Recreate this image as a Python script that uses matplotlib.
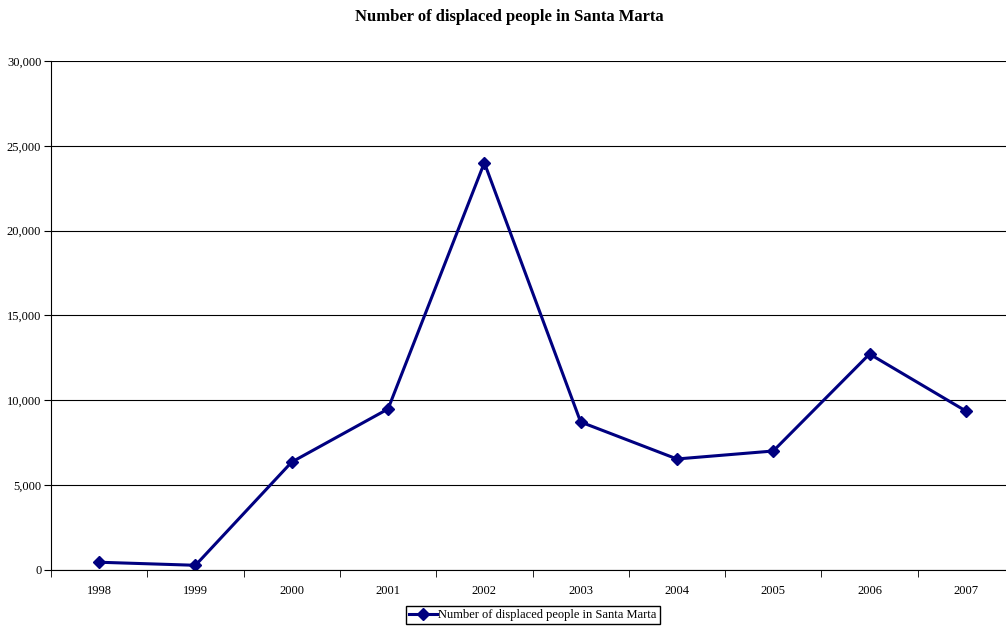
import matplotlib.pyplot as plt
from matplotlib.ticker import FuncFormatter, FixedLocator

plt.rcParams["font.family"] = ["Liberation Serif", "DejaVu Serif"]

years = ["1998", "1999", "2000", "2001", "2002", "2003", "2004", "2005", "2006", "2007"]
displaced = [440, 260, 6350, 9480, 24000, 8710, 6530, 7000, 12720, 9360]
label = "Number of displaced people in Santa Marta"

fig = plt.figure(figsize=(10.06, 6.27), dpi=100)
# plot area runs a little past the right edge of the picture, as in the source
ax = fig.add_axes([51 / 1006, 1 - 569.7 / 627, 963 / 1006, 508.7 / 627])

x = list(range(len(years)))
ax.plot(x, displaced, color="#000080", linewidth=2.2, marker="D", markersize=6,
        label=label)

ax.set_xlim(-0.5, len(years) - 0.5)
ax.set_ylim(0, 30000)
ax.set_yticks(range(0, 30001, 5000))
ax.yaxis.set_major_formatter(FuncFormatter(lambda v, p: f"{int(v):,}"))
ax.yaxis.grid(True, color="black", linewidth=0.8)
ax.set_axisbelow(True)

ax.set_xticks(x)
ax.set_xticklabels(years)
ax.xaxis.set_minor_locator(FixedLocator([i - 0.5 for i in range(len(years) + 1)]))
ax.tick_params(axis="x", which="major", length=0, pad=11, labelsize=9)
ax.tick_params(axis="x", which="minor", length=5, direction="out")
ax.tick_params(axis="y", length=5, direction="out", labelsize=9, pad=2)

ax.spines["top"].set_visible(False)
ax.spines["right"].set_visible(False)

fig.suptitle("Number of displaced people in Santa Marta", x=509.5 / 1006,
             y=1 - 9 / 627, fontsize=12, fontweight="bold")

fig.legend(loc="center", bbox_to_anchor=(533 / 1006, 1 - 615 / 627), fontsize=9,
           frameon=True, fancybox=False, edgecolor="black", framealpha=1,
           borderpad=0.25, borderaxespad=0, handlelength=2.2, handletextpad=0.1)

fig.savefig("out.png", dpi=100)
